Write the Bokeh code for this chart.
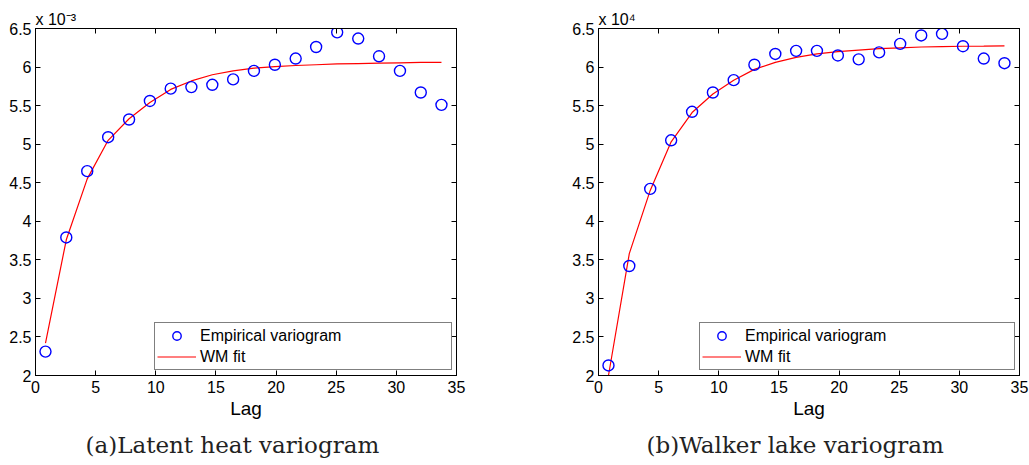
from bokeh.plotting import figure
from bokeh.layouts import row
from bokeh.models import (Range1d, FixedTicker, LinearAxis, Legend, LegendItem,
                          Title, ColumnDataSource)
from bokeh.embed import file_html
from bokeh.resources import INLINE

# ---------------- data ----------------
lags = [0.83, 2.56, 4.30, 6.04, 7.78, 9.51, 11.24, 12.96, 14.70, 16.43,
        18.16, 19.90, 21.63, 23.33, 25.08, 26.83, 28.56, 30.30, 32.03, 33.75]

# Latent heat (values in units of 1e-3)
latent_emp = [2.31, 3.79, 4.65, 5.09, 5.32, 5.56, 5.72, 5.74, 5.77, 5.84,
              5.95, 6.03, 6.11, 6.26, 6.45, 6.37, 6.14, 5.95, 5.67, 5.51]
latent_fit = [2.42, 3.76, 4.55, 5.05, 5.33, 5.54, 5.71, 5.82, 5.90, 5.95,
              5.985, 6.005, 6.02, 6.03, 6.04, 6.045, 6.05, 6.055, 6.06, 6.06]

# Walker lake (values in units of 1e4)
walker_emp = [2.13, 3.42, 4.42, 5.05, 5.42, 5.67, 5.83, 6.03, 6.17, 6.21,
              6.21, 6.15, 6.10, 6.19, 6.30, 6.41, 6.43, 6.27, 6.11, 6.05]
walker_fit = [2.00, 3.58, 4.40, 5.03, 5.41, 5.65, 5.83, 5.97, 6.06, 6.125,
              6.17, 6.20, 6.22, 6.24, 6.25, 6.26, 6.265, 6.27, 6.272, 6.275]

x_ticks = [0, 5, 10, 15, 20, 25, 30, 35]
x_tick_labels = ["0", "5", "10", "15", "20", "25", "30", "35"]
y_ticks = [2, 2.5, 3, 3.5, 4, 4.5, 5, 5.5, 6, 6.5]
y_tick_labels = ["2", "2.5", "3", "3.5", "4", "4.5", "5", "5.5", "6", "6.5"]

legend_labels = ["Empirical variogram", "WM fit"]
captions = ["(a)Latent heat variogram", "(b)Walker lake variogram"]
scale_labels = ["x 10\u207b\u00b3", "x 10\u2074"]

SANS = "Liberation Sans"


def make_panel(emp, fit, caption, scale_label, border_left, border_right,
               legend_x, legend_label_width, caption_offset):
    p = figure(frame_width=421, frame_height=347,
               x_range=Range1d(0, 35), y_range=Range1d(2, 6.5),
               output_backend="svg", toolbar_location=None,
               min_border_left=border_left, min_border_right=border_right,
               min_border_top=28, min_border_bottom=90,
               x_axis_label="Lag")
    p.background_fill_color = "white"
    p.border_fill_color = "white"
    p.outline_line_color = "black"
    p.outline_line_width = 1
    p.xgrid.visible = False
    p.ygrid.visible = False

    p.xaxis.ticker = FixedTicker(ticks=x_ticks)
    p.yaxis.ticker = FixedTicker(ticks=y_ticks)
    p.xaxis.major_label_overrides = dict(zip(x_ticks, x_tick_labels))
    p.yaxis.major_label_overrides = dict(zip(y_ticks, y_tick_labels))

    for ax in (p.xaxis[0], p.yaxis[0]):
        ax.axis_line_color = "black"
        ax.major_tick_line_color = "black"
        ax.minor_tick_line_color = None
        ax.major_tick_in = 5
        ax.major_tick_out = 0
        ax.major_label_text_font = SANS
        ax.major_label_text_font_size = "16px"
        ax.major_label_text_color = "black"
    p.xaxis.major_label_standoff = 5
    p.yaxis.major_label_standoff = 4
    p.xaxis.axis_label_text_font = SANS
    p.xaxis.axis_label_text_font_size = "19px"
    p.xaxis.axis_label_text_font_style = "normal"
    p.xaxis.axis_label_text_color = "black"
    p.xaxis.axis_label_standoff = 2

    top = LinearAxis(ticker=FixedTicker(ticks=x_ticks), major_label_text_font_size="0px",
                     major_tick_in=5, major_tick_out=0, minor_tick_line_color=None,
                     major_label_standoff=0, axis_line_color="black",
                     major_tick_line_color="black")
    right = LinearAxis(ticker=FixedTicker(ticks=y_ticks), major_label_text_font_size="0px",
                       major_tick_in=5, major_tick_out=0, minor_tick_line_color=None,
                       major_label_standoff=0, axis_line_color="black",
                       major_tick_line_color="black")
    p.add_layout(top, "above")
    p.add_layout(right, "right")

    src = ColumnDataSource(dict(lag=lags, emp=emp, fit=fit))
    r_fit = p.line("lag", "fit", source=src, line_color="#ff0000", line_width=1.2)
    r_emp = p.scatter("lag", "emp", source=src, marker="circle", size=11,
                      fill_color=None, line_color="#0000ff", line_width=1.4)

    legend = Legend(items=[LegendItem(label=legend_labels[0], renderers=[r_emp]),
                           LegendItem(label=legend_labels[1], renderers=[r_fit])],
                    location=(legend_x, 5),
                    border_line_color="black", border_line_width=1.2,
                    background_fill_color="white", background_fill_alpha=1.0,
                    label_text_font=SANS, label_text_font_size="16px",
                    label_text_color="black",
                    glyph_width=39, glyph_height=21, label_height=21,
                    label_standoff=4, label_width=legend_label_width,
                    padding=2, spacing=0, margin=0)
    p.add_layout(legend)

    scale = Title(text=scale_label, align="left", offset=0,
                  text_font=SANS, text_font_size="16px", text_font_style="normal",
                  text_color="black", standoff=1)
    p.add_layout(scale, "above")

    cap = Title(text=caption, align="left", offset=caption_offset,
                text_font="DejaVu Serif", text_font_size="23px",
                text_font_style="normal", text_color="#222222", standoff=16)
    p.add_layout(cap, "below")
    return p


p1 = make_panel(latent_emp, latent_fit, captions[0], scale_labels[0],
                35, 100, 119, 249, 50)
p2 = make_panel(walker_emp, walker_fit, captions[1], scale_labels[1],
                42, 10, 101, 267, 48)

layout = row(p1, p2)
open("out.html", "w").write(file_html(layout, INLINE))
